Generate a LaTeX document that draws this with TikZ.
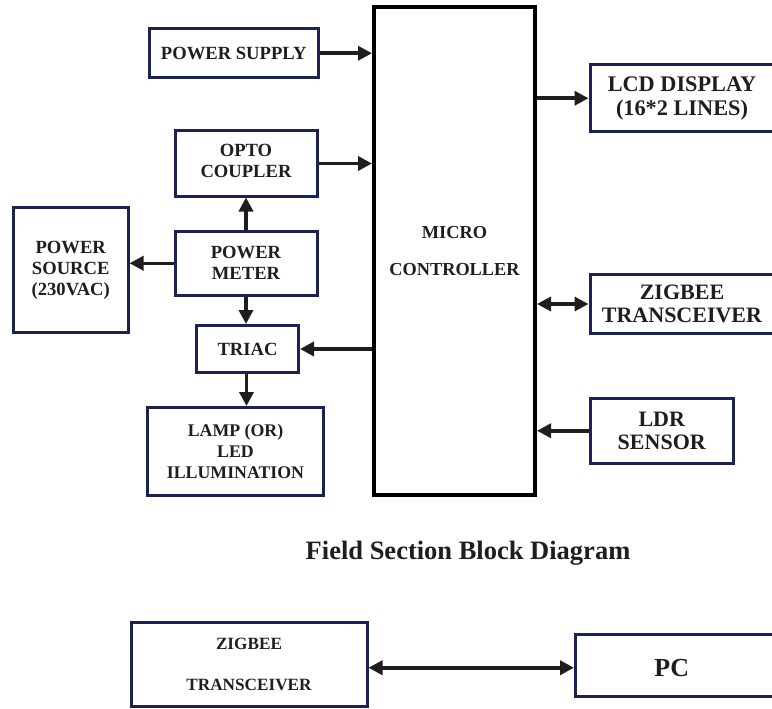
\documentclass[tikz,border=0pt]{standalone}
\usepackage{fontspec}
\setmainfont{Liberation Serif}
\usetikzlibrary{arrows.meta,calc}
\definecolor{navy}{HTML}{1B2352}
\definecolor{ink}{HTML}{1E1E1E}
\tikzset{
  blk/.style={draw=navy, line width=3pt, rectangle, inner sep=0pt, align=center,
    text=ink, font=\fontsize{18.6}{21}\selectfont\bfseries},
  rblk/.style={blk, font=\fontsize{22.3}{23.5}\selectfont\bfseries},
  mcblk/.style={draw=black, line width=4pt, rectangle, inner sep=0pt, align=center,
    text=ink, font=\fontsize{18.3}{37}\selectfont\bfseries},
  conn/.style={draw=ink, line width=3.5pt, -{Triangle[length=14pt,width=14pt]}},
  bconn/.style={draw=ink, line width=3.5pt, {Triangle[length=14pt,width=14pt]}-{Triangle[length=14pt,width=14pt]}},
}
\begin{document}
\begin{tikzpicture}[x=1pt,y=-1pt]
\useasboundingbox (0,0) rectangle (772,709);
\clip (0,0) rectangle (772,709);
% blocks
\node[blk, minimum width=169.5pt, minimum height=48.5pt] (ps) at (233.75,53.25) {POWER SUPPLY};
\node[mcblk, minimum width=161pt, minimum height=488.5pt] (mc) at (454.5,251) {MICRO\\CONTROLLER};
\node[blk, minimum width=142pt, minimum height=65pt, text depth=6pt] (opto) at (246,163.5) {OPTO\\COUPLER};
\node[blk, minimum width=114.5pt, minimum height=125pt] (psrc) at (70.75,270) {POWER\\SOURCE\\(230VAC)};
\node[blk, minimum width=142pt, minimum height=64.5pt] (pm) at (246,263.25) {POWER\\METER};
\node[blk, minimum width=102pt, minimum height=47pt] (triac) at (247.5,349) {TRIAC};
\node[blk, minimum width=176pt, minimum height=88pt, font=\fontsize{17.8}{20.8}\selectfont\bfseries] (lamp) at (235.5,451.5) {LAMP (OR)\\LED\\ILLUMINATION};
\node[rblk, minimum width=184pt, minimum height=66.5pt, font=\fontsize{22.3}{24.5}\selectfont\bfseries] (lcd) at (682,98.25) {LCD DISPLAY\\(16*2 LINES)};
\node[rblk, minimum width=184pt, minimum height=59pt, font=\fontsize{22}{23}\selectfont\bfseries] (zig) at (682,304) {ZIGBEE\\TRANSCEIVER};
\node[rblk, minimum width=143.5pt, minimum height=64.5pt, font=\fontsize{22}{23}\selectfont\bfseries] (ldr) at (661.75,430.75) {LDR\\SENSOR};
% caption
\node[text=ink, font=\fontsize{26.5}{30}\selectfont\bfseries] (cap) at (468,553) {Field Section Block Diagram};
% bottom section
\node[blk, minimum width=236pt, minimum height=84.5pt, font=\fontsize{17.2}{41}\selectfont\bfseries] (zb) at (249,664.25) {ZIGBEE\\TRANSCEIVER};
\node[draw=navy, line width=3pt, rectangle, inner sep=0pt, minimum width=204pt, minimum height=62pt] (pc) at (677.5,665.5) {};
\node[text=ink, font=\fontsize{26}{28}\selectfont\bfseries] (pctext) at (671.7,668.5) {PC};
% connectors
\draw[conn] (ps.east) -- (ps.east -| mc.west);
\draw[conn] (opto.east) -- (opto.east -| mc.west);
\draw[conn] (mc.east |- lcd.west) -- (lcd.west);
\draw[bconn] (mc.east |- zig.west) -- (zig.west);
\draw[conn] (ldr.west) -- (ldr.west -| mc.east);
\draw[conn] (mc.west |- triac.east) -- (triac.east);
\draw[conn] (pm.north) -- (opto.south);
\draw[conn] (pm.west) -- (pm.west -| psrc.east);
\draw[conn] (pm.south) -- (pm.south |- triac.north);
\draw[conn] ($(triac.south)+(-1,0)$) -- ($(triac.south |- lamp.north)+(-1,0)$);
\draw[bconn] ($(zb.east)+(0,3.5)$) -- ($(zb.east -| pc.west)+(0,3.5)$);
\end{tikzpicture}
\end{document}
